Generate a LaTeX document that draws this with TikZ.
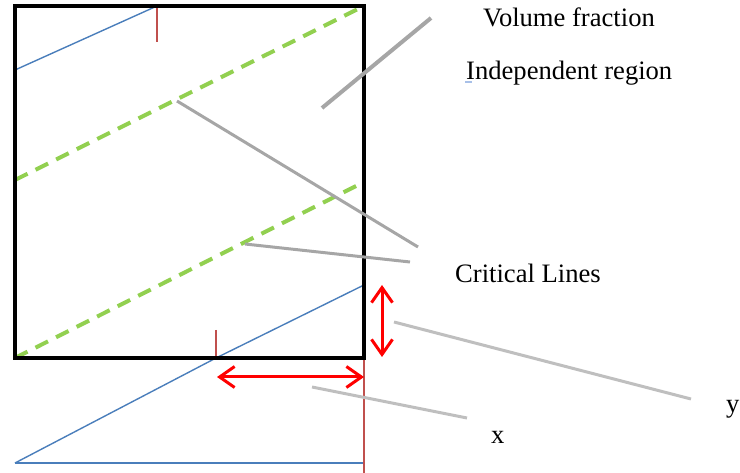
\documentclass[tikz,border=0pt]{standalone}
\usepackage{fontspec}
\setmainfont{Liberation Serif}
\usetikzlibrary{arrows.meta}
\definecolor{sqblue}{HTML}{4A7EBB}
\definecolor{tickred}{HTML}{C0504D}
\definecolor{dashgreen}{HTML}{92D050}
\definecolor{leadgray}{HTML}{A6A6A6}
\definecolor{lightgray2}{HTML}{BFBFBF}
\definecolor{squig}{HTML}{A8C0E8}
\tikzset{
  frame/.style={line width=4pt, black},
  bluelin/.style={line width=1.4pt, sqblue},
  redtick/.style={line width=1.2pt, tickred},
  critline/.style={line width=4pt, dashgreen, dash pattern=on 14pt off 9pt},
  leader/.style={line width=3pt, leadgray},
  lightleader/.style={line width=3pt, lightgray2},
  dimarrow/.style={line width=3pt, red, {Straight Barb[length=15pt,width=21pt]}-{Straight Barb[length=15pt,width=21pt]}},
  lab/.style={anchor=base west, inner sep=0pt, font=\fontsize{26.6}{32}\selectfont},
}
\begin{document}
\begin{tikzpicture}[x=1pt,y=-1pt]
\useasboundingbox (0,0) rectangle (740,473);
% square corners
\coordinate (TL) at (15,6);
\coordinate (TR) at (364,6);
\coordinate (BR) at (364,358);
\coordinate (BL) at (15,358);
% blue lines and ticks
\coordinate (b1s) at (15,70);
\coordinate (b1e) at (157,6);
\coordinate (t1e) at (157,42);
\coordinate (b2s) at (15,463);
\coordinate (b2m) at (216,358);
\coordinate (b2e) at (364,285);
\coordinate (b3e) at (364,463);
\coordinate (t2s) at (216,330);
\coordinate (rv) at (364,473);
\draw[bluelin] (b1s) -- (b1e);
\draw[redtick] (b1e) -- (t1e);
\draw[bluelin] (b2s) -- (b2m) -- (b2e);
\draw[bluelin] (b2s) -- (b3e);
\draw[redtick] (t2s) -- (b2m);
\draw[redtick] (BR) -- (rv);
% critical lines
\coordinate (g1s) at (15,180);
\coordinate (g2e) at (364,182);
\draw[critline] (g1s) -- (TR);
\draw[critline] (BL) -- (g2e);
% frame
\draw[frame, line join=miter] (TL) rectangle (BR);
% dimension arrows
\coordinate (va) at (382,285);
\coordinate (vb) at (382,357);
\coordinate (ha) at (217,377);
\coordinate (hb) at (364,377);
\draw[dimarrow] (va) -- (vb);
\draw[dimarrow] (ha) -- (hb);
% labels
\node[lab] (vf) at (483,27) {Volume fraction};
\node[lab] (ir) at (466,80) {Independent region};
\node[lab] (cl) at (455,283) {Critical Lines};
\node[lab] (ylab) at (726,413) {y};
\node[lab] (xlab) at (491,443) {x};
\draw[squig, line width=1.2pt] (465,82) -- (472,82);
% leader lines
\coordinate (l1a) at (322,108);
\coordinate (l1b) at (431,18);
\coordinate (l2a) at (177,101);
\coordinate (l2b) at (418,247);
\coordinate (l3a) at (245,244);
\coordinate (l3b) at (410,262);
\coordinate (l4a) at (394,322);
\coordinate (l4b) at (691,399);
\coordinate (l5a) at (312,387);
\coordinate (l5b) at (467,418);
\draw[leader, line width=4pt] (l1a) -- (l1b);
\draw[leader] (l2a) -- (l2b);
\draw[leader] (l3a) -- (l3b);
\draw[lightleader] (l4a) -- (l4b);
\draw[lightleader] (l5a) -- (l5b);
\end{tikzpicture}
\end{document}
